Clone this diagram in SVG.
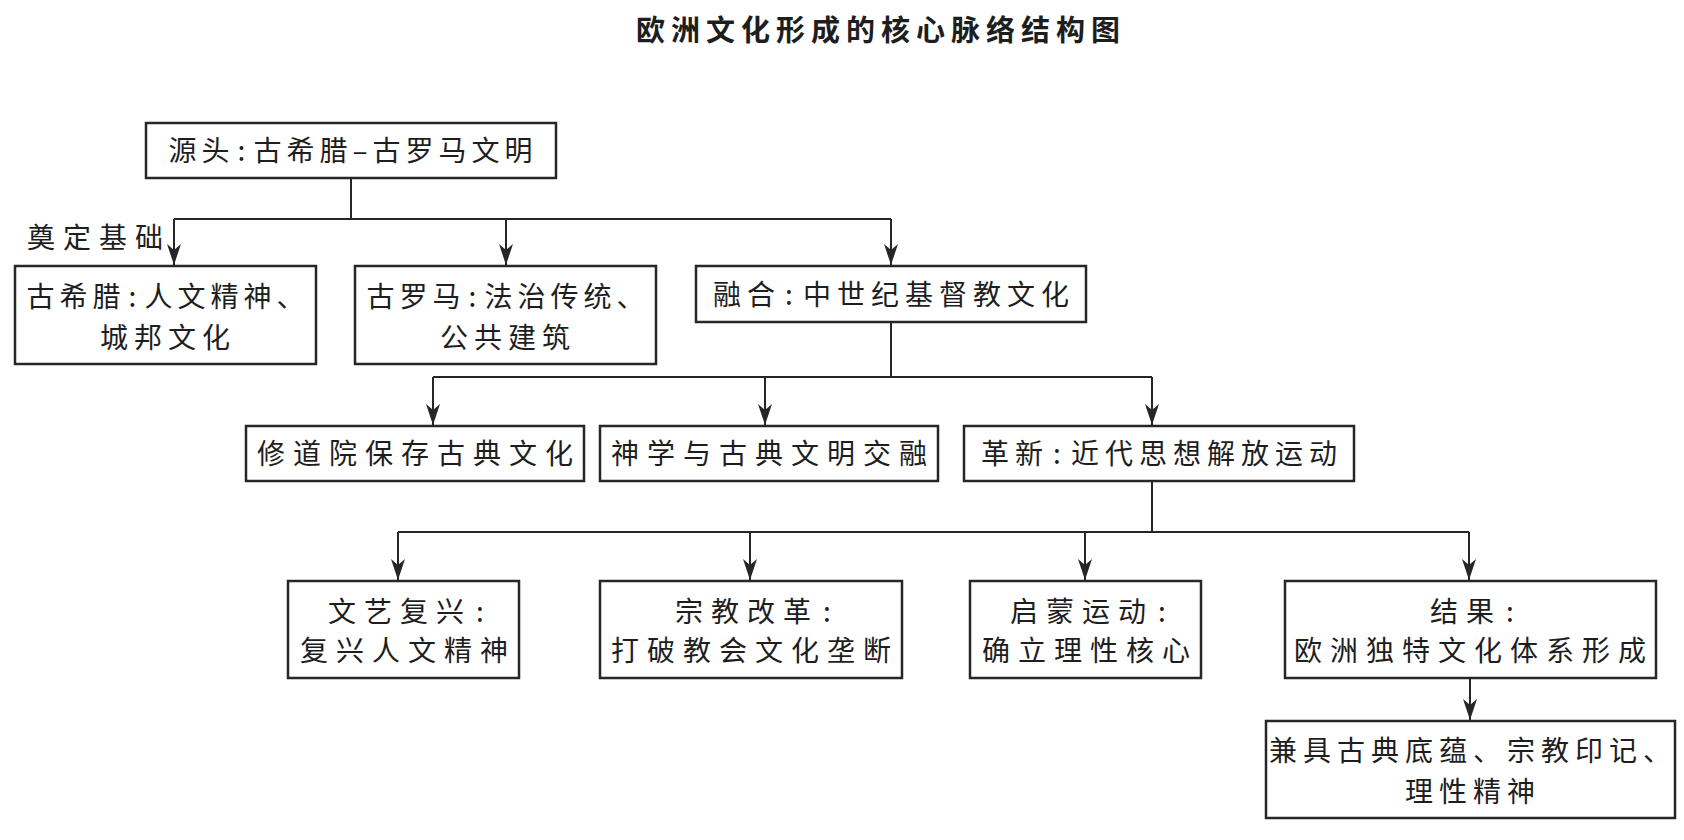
<svg xmlns="http://www.w3.org/2000/svg" width="1684" height="840" viewBox="0 0 1684 840">
<style>
.box{fill:#fff;stroke:#262626;stroke-width:2.5}
.t{font-family:"Noto Sans CJK SC","Noto Sans",sans-serif;font-size:28px;fill:#1e1e1e;text-anchor:middle}
.s5{letter-spacing:5px}.s6{letter-spacing:6px}.s8{letter-spacing:8px}
.title{font-family:"Noto Sans CJK SC","Noto Sans",sans-serif;font-size:29px;font-weight:bold;fill:#1e1e1e;text-anchor:middle;letter-spacing:6px}
.lbl{font-family:"Noto Sans CJK SC","Noto Sans",sans-serif;font-size:28px;fill:#1e1e1e;letter-spacing:8px}
.c{fill:none;stroke:#262626;stroke-width:2}
</style>
<defs>
<marker id="ah" markerUnits="userSpaceOnUse" markerWidth="24" markerHeight="18" viewBox="-22 -9 24 18" refX="0" refY="0" orient="auto">
<path d="M0,0 L-21,-7 L-15,0 L-21,7 Z" fill="#262626"/>
</marker>
</defs>
<rect width="1684" height="840" fill="#fff"/>
<text class="title" x="881" y="41">欧洲文化形成的核心脉络结构图</text>

<g id="connectors">
<path class="c" d="M351,178 V219"/>
<path class="c" d="M174,219 H891"/>
<path class="c" d="M174,219 V265" marker-end="url(#ah)"/>
<path class="c" d="M506,219 V265" marker-end="url(#ah)"/>
<path class="c" d="M891,219 V265" marker-end="url(#ah)"/>
<path class="c" d="M891,322 V377"/>
<path class="c" d="M433,377 H1152"/>
<path class="c" d="M433,377 V425" marker-end="url(#ah)"/>
<path class="c" d="M765,377 V425" marker-end="url(#ah)"/>
<path class="c" d="M1152,377 V425" marker-end="url(#ah)"/>
<path class="c" d="M1152,481 V532"/>
<path class="c" d="M398,532 H1469"/>
<path class="c" d="M398,532 V580" marker-end="url(#ah)"/>
<path class="c" d="M750,532 V580" marker-end="url(#ah)"/>
<path class="c" d="M1085,532 V580" marker-end="url(#ah)"/>
<path class="c" d="M1469,532 V580" marker-end="url(#ah)"/>
<path class="c" d="M1470,678 V720" marker-end="url(#ah)"/>
<text class="lbl" x="27" y="248">奠定基础</text>
</g>

<g id="n0"><rect class="box" x="146" y="123" width="410" height="55"/>
<text class="t s5" x="353" y="161">源头<tspan dx="3">:</tspan><tspan dx="3">古希腊–古罗马文明</tspan></text></g>

<g id="n1"><rect class="box" x="15" y="266" width="301" height="98"/>
<text class="t s5" x="168" y="307">古希腊<tspan dx="3">:</tspan><tspan dx="3">人文精神、</tspan></text>
<text class="t s6" x="168" y="348">城邦文化</text></g>

<g id="n2"><rect class="box" x="355" y="266" width="301" height="98"/>
<text class="t s5" x="508" y="307">古罗马<tspan dx="3">:</tspan><tspan dx="3">法治传统、</tspan></text>
<text class="t s6" x="508" y="348">公共建筑</text></g>

<g id="n3"><rect class="box" x="696" y="266" width="390" height="56"/>
<text class="t s6" x="894" y="305">融合<tspan dx="4">:</tspan><tspan dx="4">中世纪基督教文化</tspan></text></g>

<g id="n4"><rect class="box" x="246" y="426" width="338" height="55"/>
<text class="t s8" x="419" y="464">修道院保存古典文化</text></g>

<g id="n5"><rect class="box" x="600" y="426" width="338" height="55"/>
<text class="t s8" x="773" y="464">神学与古典文明交融</text></g>

<g id="n6"><rect class="box" x="964" y="426" width="390" height="55"/>
<text class="t s6" x="1162" y="464">革新<tspan dx="4">:</tspan><tspan dx="4">近代思想解放运动</tspan></text></g>

<g id="n7"><rect class="box" x="288" y="581" width="231" height="97"/>
<text class="t s8" x="410" y="622">文艺复兴<tspan dx="4">:</tspan></text>
<text class="t s8" x="408" y="661">复兴人文精神</text></g>

<g id="n8"><rect class="box" x="600" y="581" width="302" height="97"/>
<text class="t s8" x="757" y="622">宗教改革<tspan dx="4">:</tspan></text>
<text class="t s8" x="755" y="661">打破教会文化垄断</text></g>

<g id="n9"><rect class="box" x="970" y="581" width="231" height="97"/>
<text class="t s8" x="1092" y="622">启蒙运动<tspan dx="4">:</tspan></text>
<text class="t s8" x="1090" y="661">确立理性核心</text></g>

<g id="n10"><rect class="box" x="1285" y="581" width="371" height="97"/>
<text class="t s8" x="1476" y="622">结果<tspan dx="4">:</tspan></text>
<text class="t s8" x="1474" y="661">欧洲独特文化体系形成</text></g>

<g id="n11"><rect class="box" x="1266" y="721" width="409" height="97"/>
<text class="t s6" x="1473" y="761">兼具古典底蕴、宗教印记、</text>
<text class="t s6" x="1473" y="802">理性精神</text></g>
</svg>
